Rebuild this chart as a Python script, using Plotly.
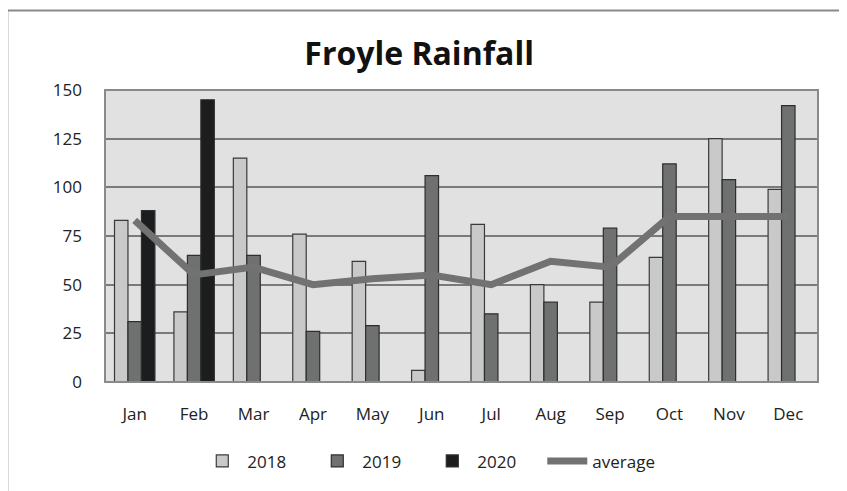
import plotly.graph_objects as go

months = ["Jan", "Feb", "Mar", "Apr", "May", "Jun", "Jul", "Aug", "Sep", "Oct", "Nov", "Dec"]
rain_2018 = [83, 36, 115, 76, 62, 6, 81, 50, 41, 64, 125, 99]
rain_2019 = [31, 65, 65, 26, 29, 106, 35, 41, 79, 112, 104, 142]
rain_2020 = [88, 145, None, None, None, None, None, None, None, None, None, None]
average = [83, 55, 59, 50, 53, 55, 50, 62, 59, 85, 85, 85]
y_ticks = [0, 25, 50, 75, 100, 125, 150]

FONT = "Open Sans, sans-serif"

fig = go.Figure()
fig.add_trace(go.Bar(x=months, y=rain_2018, name="2018",
                     marker=dict(color="#c9c9c9", line=dict(color="#3a3a3a", width=1.2))))
fig.add_trace(go.Bar(x=months, y=rain_2019, name="2019",
                     marker=dict(color="#6f7070", line=dict(color="#2e2e2e", width=1.2))))
fig.add_trace(go.Bar(x=months, y=rain_2020, name="2020",
                     marker=dict(color="#1b1d1f", line=dict(color="#2e2e2e", width=1.2))))
fig.add_trace(go.Scatter(x=months, y=average, name="average", mode="lines",
                         line=dict(color="#727272", width=7)))

# the page body adds an 8px offset, so the figure is made 8px smaller on each axis
fig.update_layout(
    width=839, height=483,
    paper_bgcolor="white", plot_bgcolor="#e1e1e1",
    margin=dict(l=97, r=29, t=82, b=107),
    barmode="group", bargap=0.32, bargroupgap=0,
    title=dict(text="<b>Froyle Rainfall</b>", x=0.49, xanchor="center", y=0.905, yanchor="middle",
               font=dict(family=FONT, size=32, color="#111")),
    font=dict(family=FONT, size=17, color="#222"),
    legend=dict(orientation="h", x=0.452, xanchor="center", y=-0.272, yanchor="middle",
                font=dict(family=FONT, size=17, color="#222"), traceorder="normal",
                entrywidth=60, entrywidthmode="pixels", itemwidth=40,
                bgcolor="rgba(0,0,0,0)"),
    showlegend=True,
)
fig.update_xaxes(showgrid=False, showline=False, ticks="", tickfont=dict(size=17),
                 ticklabelstandoff=20)
fig.update_yaxes(range=[0, 150], tickvals=y_ticks, showgrid=True, gridcolor="#7a7a7a",
                 gridwidth=1.5, zeroline=False, showline=False, ticks="",
                 tickfont=dict(size=17), ticklabelstandoff=22)

# plot-area border
fig.add_shape(type="rect", xref="paper", yref="paper", x0=0, y0=0, x1=1, y1=1,
              line=dict(color="#8a8a8a", width=2), layer="above")
# outer chart frame
fig.add_shape(type="rect", xref="paper", yref="paper", x0=-0.137, y0=-0.5, x1=1.1, y1=1.272,
              line=dict(color="#8a8a8a", width=2), layer="below")

fig.write_html("out.html")
